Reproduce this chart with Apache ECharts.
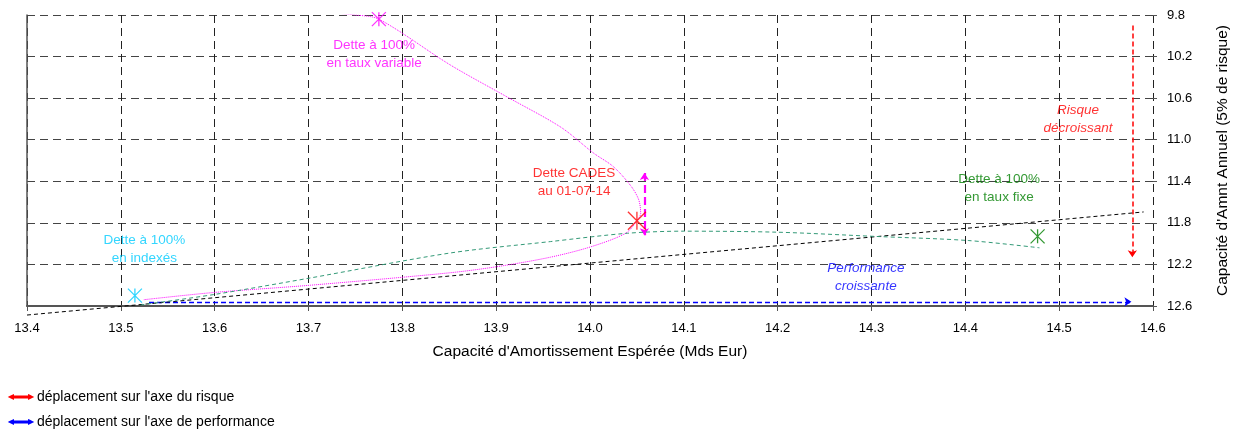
<!DOCTYPE html>
<html>
<head>
<meta charset="utf-8">
<script src="https://cdn.jsdelivr.net/npm/echarts@6/dist/echarts.min.js"></script>
<style>
  html, body { margin: 0; padding: 0; background: #fff; }
  #chart { width: 1247px; height: 430px; }
</style>
</head>
<body>
<div id="chart"></div>
<script>
// Frontière risque / performance des stratégies de dette
const variableCurve = [
  [13.700, 9.76], [13.750, 9.80], [13.775, 9.84], [13.851, 10.28], [13.912, 10.59],
  [13.969, 10.88], [14.004, 11.13], [14.025, 11.26], [14.044, 11.45], [14.052, 11.58],
  [14.054, 11.71], [14.050, 11.78], [14.038, 11.90], [14.001, 12.03], [13.958, 12.13],
  [13.902, 12.22], [13.851, 12.28], [13.702, 12.40], [13.599, 12.47], [13.524, 12.54]
];
const fixedCurve = [
  [13.521, 12.59], [13.599, 12.49], [13.702, 12.33], [13.851, 12.09], [13.958, 11.98],
  [14.040, 11.90], [14.100, 11.88], [14.200, 11.89], [14.303, 11.93], [14.403, 11.97],
  [14.479, 12.04]
];
const trendLine = [[13.40, 12.687], [14.59, 11.695]];

const pointNames = ['Dette à 100% en taux variable', 'Dette CADES au 01-07-14', 'Dette à 100% en taux fixe', 'Dette à 100% en indexés'];
const pointX = [13.775, 14.050, 14.477, 13.515];
const pointY = [9.84, 11.78, 11.93, 12.50];
const pointColors = ['#FF00FF', '#FF0000', '#008000', '#00CCFF'];
const pointSizes = [14, 18, 14, 14];

const riskArrow = [[14.578, 9.90], [14.578, 12.13]];
const perfArrow = [[13.530, 12.56], [14.577, 12.56]];
const cadesRange = [[14.058, 11.32], [14.058, 11.92]];

const noteText = ['Dette à 100%\nen taux variable', 'Dette à 100%\nen indexés', 'Dette CADES\nau 01-07-14', 'Dette à 100%\nen taux fixe', 'Risque\ndécroissant', 'Performance\ncroissante'];
const noteX = [13.770, 13.525, 13.983, 14.436, 14.520, 14.294];
const noteY = [10.175, 12.05, 11.41, 11.47, 10.80, 12.32];
const noteColors = ['#FF00FF', '#00CCFF', '#FF0000', '#008000', '#FF0000', '#0000FF'];
const noteItalic = [false, false, false, false, true, true];

const legendRisk = "déplacement sur l'axe du risque";
const legendPerf = "déplacement sur l'axe de performance";

const FONT = '"Liberation Sans", Arial, sans-serif';
const STAR = 'path://M0,0L10,10M10,0L0,10M5,0L5,10';
// small dotted double-headed arrow used as legend key
const ARROW_ICON = 'path://M0,2.5L3,1L3,4Z' +
  'M4,2L6,2L6,3L4,3Z M7,2L9,2L9,3L7,3Z M10,2L12,2L12,3L10,3Z M13,2L15,2L15,3L13,3Z M16,2L18,2L18,3L16,3Z' +
  'M19,1L22,2.5L19,4Z';

const chart = echarts.init(document.getElementById('chart'), null, { renderer: 'canvas' });

const markerSeries = pointNames.map((n, i) => ({
  name: n,
  type: 'scatter',
  data: [[pointX[i], pointY[i]]],
  symbol: STAR,
  symbolSize: pointSizes[i],
  itemStyle: { color: 'rgba(0,0,0,0)', borderColor: pointColors[i], borderWidth: 1.3 },
  z: 5,
  silent: true
}));

const notes = noteText.map((t, i) => ({
  value: [noteX[i], noteY[i]],
  label: {
    show: true,
    position: 'inside',
    formatter: t,
    color: noteColors[i],
    fontStyle: noteItalic[i] ? 'italic' : 'normal',
    fontSize: 13.5,
    lineHeight: 18,
    fontFamily: FONT,
    align: 'center'
  }
}));

const legendBase = {
  left: 9,
  itemWidth: 22,
  itemHeight: 4,
  itemGap: 4,
  padding: 0,
  selectedMode: false,
  textStyle: { fontSize: 14, color: '#000', fontFamily: FONT, padding: [0, 0, 0, 0] }
};

chart.setOption({
  animation: false,
  textStyle: { fontFamily: FONT },
  grid: { left: 27, right: 94, top: 15, bottom: 124, containLabel: false },
  legend: [
    Object.assign({}, legendBase, { top: 390, data: [{ name: legendRisk, icon: ARROW_ICON }] }),
    Object.assign({}, legendBase, { top: 415, data: [{ name: legendPerf, icon: ARROW_ICON }] })
  ],
  xAxis: {
    type: 'value',
    min: 13.4,
    max: 14.6,
    interval: 0.1,
    name: "Capacité d'Amortissement Espérée (Mds Eur)",
    nameLocation: 'middle',
    nameGap: 38,
    nameTextStyle: { fontSize: 15.5, color: '#000', fontFamily: FONT },
    axisLine: { show: true, onZero: false, lineStyle: { color: '#555', width: 2 } },
    axisTick: { show: true, length: 5, lineStyle: { color: '#555' } },
    axisLabel: { margin: 16, fontSize: 13, color: '#000', formatter: v => v.toFixed(1) },
    splitLine: { show: true, lineStyle: { color: '#222', width: 1, type: [8, 5] } }
  },
  yAxis: [
    {
      type: 'value',
      position: 'right',
      inverse: true,
      min: 9.8,
      max: 12.6,
      interval: 0.4,
      name: "Capacité d'Amnt Annuel (5% de risque)",
      nameLocation: 'middle',
      nameGap: 62,
      nameTextStyle: { fontSize: 15.5, color: '#000', fontFamily: FONT },
      axisLine: { show: false },
      axisTick: { show: true, length: 4, lineStyle: { color: '#555' } },
      axisLabel: { margin: 14, fontSize: 13, color: '#000', formatter: v => v.toFixed(1) },
      splitLine: { show: true, lineStyle: { color: '#444', width: 1, type: [8, 5] } }
    },
    {
      type: 'value',
      position: 'left',
      inverse: true,
      min: 9.8,
      max: 12.6,
      interval: 0.4,
      axisLine: { show: true, onZero: false, lineStyle: { color: '#555', width: 1.5 } },
      axisTick: { show: false },
      axisLabel: { show: false },
      splitLine: { show: false }
    }
  ],
  series: [
    {
      name: 'trend',
      type: 'line',
      data: trendLine,
      symbol: 'none',
      clip: false,
      lineStyle: { color: '#000', width: 1, type: [4, 3] },
      silent: true
    },
    {
      name: 'variable',
      type: 'line',
      data: variableCurve,
      symbol: 'none',
      smooth: 0.3,
      clip: true,
      lineStyle: { color: '#FF00FF', width: 1, type: [1, 1] },
      silent: true
    },
    {
      name: 'fixe',
      type: 'line',
      data: fixedCurve,
      symbol: 'none',
      smooth: 0.3,
      lineStyle: { color: '#339977', width: 1, type: [4, 3] },
      silent: true
    },
    {
      name: legendRisk,
      type: 'lines',
      coordinateSystem: 'cartesian2d',
      data: [{ coords: riskArrow }],
      symbol: ['none', 'arrow'],
      symbolSize: 7,
      itemStyle: { color: '#FF0000' },
      lineStyle: { color: '#FF0000', width: 1.5, type: [5, 3], opacity: 1 },
      silent: true
    },
    {
      name: legendPerf,
      type: 'lines',
      coordinateSystem: 'cartesian2d',
      data: [{ coords: perfArrow }],
      symbol: ['none', 'arrow'],
      symbolSize: 7,
      itemStyle: { color: '#0000FF' },
      lineStyle: { color: '#0000FF', width: 1.3, type: [5, 3], opacity: 1 },
      silent: true
    },
    {
      name: 'cades',
      type: 'lines',
      coordinateSystem: 'cartesian2d',
      data: [{ coords: cadesRange }],
      symbol: ['arrow', 'arrow'],
      symbolSize: 7,
      itemStyle: { color: '#FF00FF' },
      lineStyle: { color: '#FF00FF', width: 2.2, type: [8, 4], opacity: 1 },
      silent: true
    },
    ...markerSeries,
    {
      name: 'notes',
      type: 'scatter',
      symbolSize: 0,
      data: notes,
      z: 6,
      silent: true
    }
  ]
});
</script>
</body>
</html>
